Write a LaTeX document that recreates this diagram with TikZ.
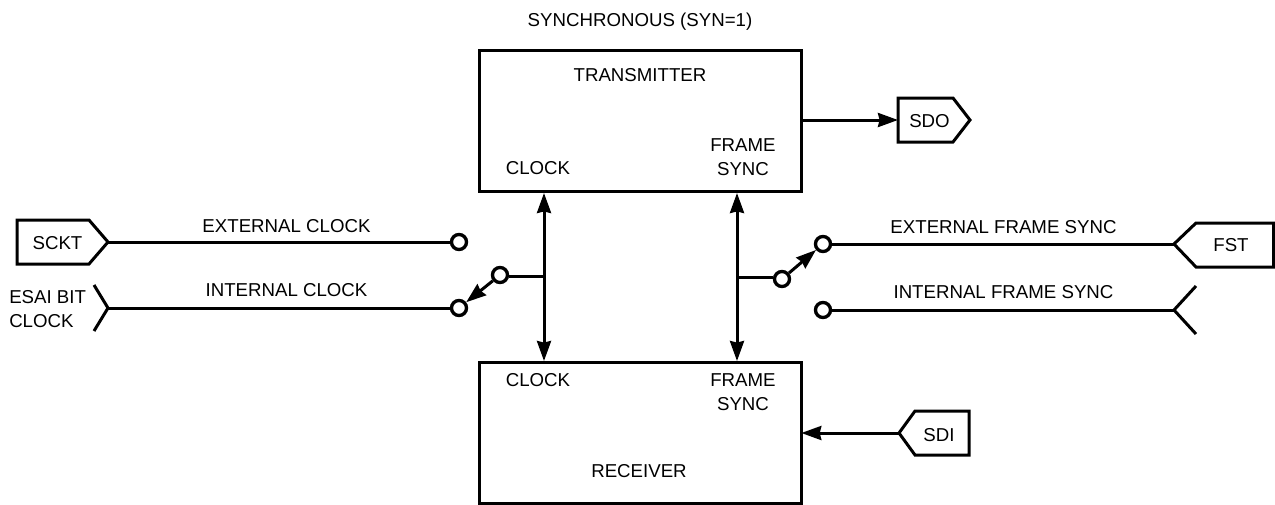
\documentclass[tikz,border=0pt]{standalone}
\usepackage{fontspec}
\setmainfont{Liberation Sans}
\usetikzlibrary{arrows.meta,calc}
\tikzset{
  wire/.style={line width=2.25pt},
  bigarrow/.style={wire,-{Stealth[length=15pt,width=10.5pt,inset=1.2pt]}},
  bothways/.style={wire,{Stealth[length=15pt,width=10.5pt,inset=1.2pt]}-{Stealth[length=15pt,width=10.5pt,inset=1.2pt]}},
  swarrow/.style={wire,-{Stealth[length=15pt,width=10.5pt,inset=1.2pt]}},
  blockbox/.style={draw,line width=2.25pt,outer sep=0pt,minimum width=241.2pt,minimum height=105.4pt,inner sep=0pt},
  contact/.style={circle,draw,fill=white,line width=2.5pt,minimum size=11.3pt,inner sep=0pt},
  lbl/.style={font=\fontsize{14pt}{18pt}\selectfont,inner sep=0pt,align=center,anchor=base},
}
\begin{document}
\begin{tikzpicture}[x=0.75pt,y=-0.75pt]
\useasboundingbox (0,0) rectangle (1275,504);
% blocks
\node[blockbox] (tx) at (640.5,121) {};
\node[blockbox] (rx) at (640.5,433) {};
% tags
\draw[wire,line join=miter] (17,220) -- (89,220) -- (108,242) -- (89,264) -- (17,264) -- cycle;
\coordinate (sckt) at (108,242);
\draw[wire,line join=miter] (94,285) -- (108,308) -- (94,331);
\coordinate (esai) at (108,308);
\draw[wire,line join=miter] (1273.5,223) -- (1196,223) -- (1174,244) -- (1196,267) -- (1273.5,267) -- cycle;
\coordinate (fst) at (1174,244);
\draw[wire,line join=miter] (1196,286) -- (1174,310) -- (1196,334);
\coordinate (ifs) at (1174,310);
\draw[wire,line join=miter] (898,98) -- (953,98) -- (970,120) -- (953,142) -- (898,142) -- cycle;
\coordinate (sdo) at (898,120);
\draw[wire,line join=miter] (969,411) -- (915,411) -- (899,433) -- (915,455) -- (969,455) -- cycle;
\coordinate (sdi) at (899,433);
% junctions on the vertical buses
\coordinate (jl) at (544,276);
\coordinate (jr) at (737,277);
\coordinate (ltop) at (544,193);
\coordinate (lbot) at (544,361);
\coordinate (rtop) at (737,193);
\coordinate (rbot) at (737,361);
% connectors
\draw[bigarrow] (tx.east |- sdo) -- (sdo);
\draw[bigarrow] (sdi) -- (rx.east);
\draw[bothways] (ltop) -- (lbot);
\draw[bothways] (rtop) -- (rbot);
% contacts
\node[contact] (c1) at (459,242) {};
\node[contact] (c2) at (459,308) {};
\node[contact] (c3) at (500,275) {};
\node[contact] (c4) at (782,279) {};
\node[contact] (c5) at (823,244) {};
\node[contact] (c6) at (823,310) {};
\draw[wire] (sckt) -- (c1);
\draw[wire] (esai) -- (c2);
\draw[wire] (fst) -- (c5);
\draw[wire] (ifs) -- (c6);
\draw[wire] (jl) -- (jl -| c3.east);
\draw[wire] (jr) -- (jr -| c4.west);
\draw[swarrow] (c3) -- (c2);
\draw[swarrow] (c4) -- (c5);
% labels
\node[lbl] (t0) at (640,26) {SYNCHRONOUS (SYN=1)};
\node[lbl] (t1) at (640,81) {TRANSMITTER};
\node[lbl] (t2) at (538,174) {CLOCK};
\node[lbl] (t3) at (743,175) {FRAME\\SYNC};
\node[lbl] (t4) at (538,386) {CLOCK};
\node[lbl] (t5) at (743,410.5) {FRAME\\SYNC};
\node[lbl] (t6) at (639,477) {RECEIVER};
\node[lbl] (t7) at (286.5,232) {EXTERNAL CLOCK};
\node[lbl] (t8) at (286.5,296) {INTERNAL CLOCK};
\node[lbl] (t9) at (1003.5,233) {EXTERNAL FRAME SYNC};
\node[lbl] (t10) at (1003.5,298) {INTERNAL FRAME SYNC};
\node[lbl] (t11) at (57.5,249) {SCKT};
\node[lbl,align=left,anchor=base west] (t12) at (9,327) {ESAI BIT\\CLOCK};
\node[lbl] (t13) at (1231,251) {FST};
\node[lbl] (t14) at (929.5,127) {SDO};
\node[lbl] (t15) at (939,441) {SDI};
\end{tikzpicture}
\end{document}
